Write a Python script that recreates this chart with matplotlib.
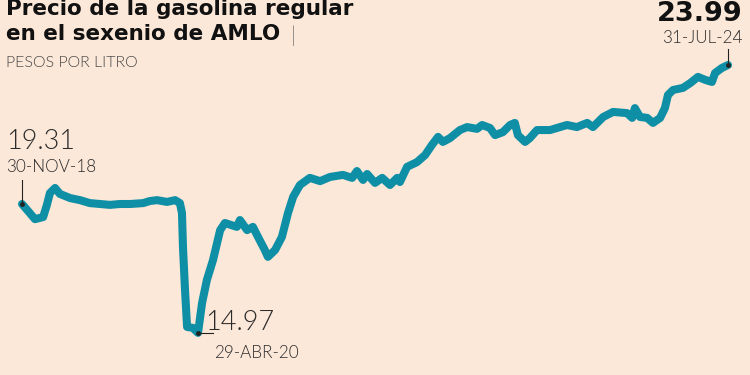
import matplotlib
matplotlib.use("Agg")
import matplotlib.pyplot as plt
import matplotlib.dates as mdates
import pandas as pd

dates = ["2018-11-30","2018-12-18","2019-01-07","2019-01-31","2019-02-11","2019-02-20","2019-03-07",
         "2019-03-21","2019-04-20","2019-05-19","2019-06-17","2019-07-17","2019-08-15","2019-09-13",
         "2019-10-13","2019-11-20","2019-12-10","2019-12-31","2020-01-29","2020-02-22","2020-03-07",
         "2020-03-13","2020-03-16","2020-03-22","2020-03-28","2020-04-14","2020-04-29","2020-05-11",
         "2020-05-25","2020-06-12","2020-07-03","2020-07-17","2020-08-21","2020-08-30","2020-09-20",
         "2020-10-07","2020-10-22","2020-11-11","2020-11-20","2020-12-11","2020-12-31","2021-01-18",
         "2021-02-02","2021-02-22","2021-03-23","2021-04-22","2021-05-21","2021-06-28","2021-07-25",
         "2021-08-08","2021-08-26","2021-09-07","2021-09-30","2021-10-21","2021-11-13","2021-12-04",
         "2021-12-12","2022-01-02","2022-01-31","2022-02-24","2022-03-16","2022-04-03","2022-04-17",
         "2022-05-08","2022-06-06","2022-06-27","2022-07-26","2022-08-10","2022-09-02","2022-09-17",
         "2022-10-10","2022-10-31","2022-11-14","2022-11-23","2022-12-14","2022-12-28","2023-01-18",
         "2023-02-25","2023-04-16","2023-05-15","2023-06-14","2023-07-01","2023-07-31","2023-08-29",
         "2023-10-09","2023-10-24","2023-11-01","2023-11-16","2023-12-07","2023-12-24","2024-01-14",
         "2024-01-28","2024-02-06","2024-02-21","2024-03-21","2024-04-11","2024-05-04","2024-05-25",
         "2024-06-14","2024-06-23","2024-07-13","2024-07-31"]
precios = [19.31,19.07,18.80,18.87,19.28,19.68,19.85,
           19.65,19.51,19.44,19.34,19.31,19.28,19.31,
           19.31,19.34,19.41,19.44,19.38,19.44,19.34,
           19.01,17.86,16.41,15.17,15.14,14.97,15.98,
           16.75,17.42,18.43,18.67,18.54,18.77,18.43,
           18.54,18.20,17.76,17.53,17.76,18.20,19.01,
           19.55,19.95,20.19,20.08,20.22,20.29,20.19,
           20.42,20.12,20.32,20.02,20.19,19.95,20.19,
           20.05,20.56,20.72,20.96,21.30,21.57,21.40,
           21.53,21.80,21.90,21.84,21.97,21.87,21.63,
           21.73,21.97,22.04,21.63,21.40,21.53,21.80,
           21.80,21.97,21.90,22.04,21.90,22.24,22.41,
           22.37,22.21,22.54,22.24,22.21,22.04,22.21,
           22.54,22.98,23.15,23.22,23.38,23.59,23.49,
           23.42,23.72,23.89,23.99]

titulo = ["Precio de la gasolina regular", "en el sexenio de AMLO"]
subtitulo = "PESOS POR LITRO"
etiquetas = [("19.31", "30-NOV-18"), ("14.97", "29-ABR-20"), ("23.99", "31-JUL-24")]

BG = "#FCE8D9"
LINE = "#0E8FA5"
TXT = "#2b2b2b"

x = pd.to_datetime(dates)
fig = plt.figure(figsize=(7.5, 3.75), dpi=100, facecolor=BG)
ax = fig.add_axes([0, 0, 1, 1])
ax.set_facecolor(BG)
ax.plot(x, precios, color=LINE, lw=5.8, solid_joinstyle="round", solid_capstyle="round")

# coordinate framing (pixel-matched)
d0 = mdates.date2num(pd.Timestamp("2018-11-30"))
d1 = mdates.date2num(pd.Timestamp("2024-07-31"))
dpp = (d1 - d0) / 706.0
ax.set_xlim(d0 - 22 * dpp, d1 + 22 * dpp)
ppu = 29.7
ax.set_ylim(19.31 - 171 / ppu, 19.31 + 204 / ppu)
ax.axis("off")

def px(xp, yp):
    return (xp / 750.0, 1 - yp / 375.0)

fam = ["Lato", "DejaVu Sans"]
bold = ["DejaVu Sans"]
# title
fig.text(*px(6, -1), titulo[0], fontsize=15.5, fontweight="bold", family=bold, color="#111111",
         va="top", ha="left")
fig.text(*px(6, 24), titulo[1], fontsize=15.5, fontweight="bold", family=bold, color="#111111",
         va="top", ha="left")
fig.text(*px(291, 26), "|", fontsize=15, fontweight=300, family=fam, color="#777777",
         va="top", ha="left")
fig.text(*px(6, 56), subtitulo, fontsize=11.5, fontweight=300, family=fam, color="#444444",
         va="top", ha="left")

# start annotation
fig.text(*px(6, 129), etiquetas[0][0], fontsize=19.5, fontweight=300, family=fam, color=TXT,
         va="top", ha="left")
fig.text(*px(6, 159), etiquetas[0][1], fontsize=12.3, fontweight=300, family=fam, color=TXT,
         va="top", ha="left")
ax.plot([x[0], x[0]], [precios[0], precios[0] + 24 / ppu], color="#222222", lw=0.8)
ax.plot([x[0]], [precios[0]], "o", color="#222222", ms=2.5)

# min annotation
i_min = precios.index(min(precios))
ax.plot([x[i_min], x[i_min] + pd.Timedelta(days=15 * 2.93)], [precios[i_min]] * 2, color="#222222", lw=0.8)
ax.plot([x[i_min]], [precios[i_min]], "o", color="#222222", ms=2.5)
fig.text(*px(205, 310), etiquetas[1][0], fontsize=19.5, fontweight=300, family=fam, color=TXT,
         va="top", ha="left")
fig.text(*px(214, 345), etiquetas[1][1], fontsize=12.3, fontweight=300, family=fam, color=TXT,
         va="top", ha="left")

# end annotation
ax.plot([x[-1], x[-1]], [precios[-1], precios[-1] + 16 / ppu], color="#222222", lw=0.8)
ax.plot([x[-1]], [precios[-1]], "o", color="#222222", ms=2.5)
fig.text(*px(743, 1), etiquetas[2][0], fontsize=19.5, fontweight="bold", family=bold, color="#111111",
         va="top", ha="right")
fig.text(*px(743, 30), etiquetas[2][1], fontsize=12.3, fontweight=300, family=fam, color=TXT,
         va="top", ha="right")

fig.savefig("out.png", dpi=100, facecolor=BG)
